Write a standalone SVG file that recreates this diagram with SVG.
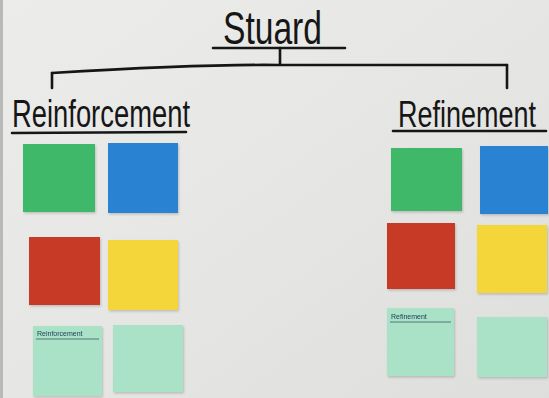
<svg xmlns="http://www.w3.org/2000/svg" width="549" height="398" viewBox="0 0 549 398">
<defs>
<linearGradient id="paper" x1="0" y1="0" x2="1" y2="1">
<stop offset="0" stop-color="#ececea"/>
<stop offset="0.5" stop-color="#e6e6e4"/>
<stop offset="1" stop-color="#dededc"/>
</linearGradient>
<filter id="sh" x="-10%" y="-10%" width="120%" height="120%">
<feDropShadow dx="1" dy="1.5" stdDeviation="1" flood-color="#000" flood-opacity="0.18"/>
</filter>
</defs>
<style>
.ink{fill:none;stroke:#161616;stroke-width:2.6;stroke-linecap:round;stroke-linejoin:round}
.title{font-family:"Liberation Sans","DejaVu Sans",sans-serif;fill:#161616}
.note{filter:url(#sh)}
.green{fill:#3fb86a}
.blue{fill:#2c82d2}
.red{fill:#c73b27}
.yellow{fill:#f4d63a}
.mint{fill:#a9e2c6}
.hdr{font-family:"Liberation Sans","DejaVu Sans",sans-serif;font-size:7px;fill:#24405a}
.rule{stroke:#3c5a6a;stroke-width:0.8}
</style>
<rect width="549" height="398" fill="url(#paper)"/>
<rect x="0" y="0" width="3" height="398" fill="#b9b9b7"/>

<g id="title-stuard">
<text class="title" transform="translate(223,44) scale(1,1.35)" font-size="34" textLength="99" lengthAdjust="spacingAndGlyphs">Stuard</text>
<line class="ink" x1="213" y1="48" x2="345" y2="48"/>
</g>
<g id="title-reinforcement">
<text class="title" transform="translate(12,127) scale(1,1.4)" font-size="28" textLength="178" lengthAdjust="spacingAndGlyphs">Reinforcement</text>
<line class="ink" x1="12" y1="133" x2="186" y2="132"/>
</g>
<g id="title-refinement">
<text class="title" transform="translate(398,127) scale(1,1.4)" font-size="27" textLength="138" lengthAdjust="spacingAndGlyphs">Refinement</text>
<line class="ink" x1="393" y1="131" x2="546" y2="131"/>
</g>

<g id="connectors">
<path class="ink" d="M280 48 L280 64"/>
<path class="ink" d="M52 73 Q200 64 280 65 L507 65"/>
<path class="ink" d="M52 73 L52 88"/>
<path class="ink" d="M507 65 L507 88"/>
</g>

<g id="note-l1" class="note"><rect class="green" x="23" y="144" width="72" height="68"/></g>
<g id="note-l2" class="note"><rect class="blue" x="108" y="143" width="70" height="70"/></g>
<g id="note-l3" class="note"><rect class="red" x="29" y="237" width="71" height="68"/></g>
<g id="note-l4" class="note"><rect class="yellow" x="108" y="240" width="70" height="70"/></g>
<g id="note-l5" class="note">
<rect class="mint" x="33" y="326" width="69" height="70"/>
<text class="hdr" x="37" y="336">Reinforcement</text>
<line class="rule" x1="36" y1="339" x2="99" y2="339"/>
</g>
<g id="note-l6" class="note"><rect class="mint" x="113" y="325" width="70" height="67"/></g>

<g id="note-r1" class="note"><rect class="green" x="391" y="148" width="71" height="63"/></g>
<g id="note-r2" class="note"><rect class="blue" x="480" y="146" width="68" height="68"/></g>
<g id="note-r3" class="note"><rect class="red" x="387" y="223" width="68" height="66"/></g>
<g id="note-r4" class="note"><rect class="yellow" x="477" y="225" width="70" height="68"/></g>
<g id="note-r5" class="note">
<rect class="mint" x="387" y="308" width="67" height="68"/>
<text class="hdr" x="391" y="319">Refinement</text>
<line class="rule" x1="390" y1="322" x2="451" y2="322"/>
</g>
<g id="note-r6" class="note"><rect class="mint" x="477" y="317" width="70" height="60"/></g>
</svg>
